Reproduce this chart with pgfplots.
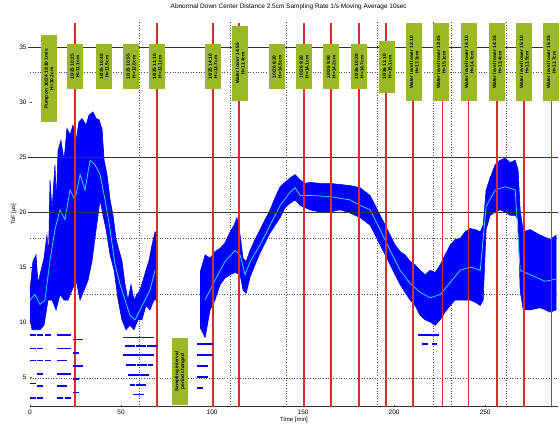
\documentclass[border=0pt]{standalone}
\usepackage{fontspec}
\setmainfont{Liberation Sans}
\usepackage{pgfplots}
\pgfplotsset{compat=1.18}
\definecolor{boxgreen}{RGB}{155,184,38}
\definecolor{evred}{RGB}{215,45,45}
\definecolor{avgcyan}{RGB}{40,220,240}
\tikzset{lbl/.style={rotate=90, fill=boxgreen, inner sep=0pt, minimum height=16bp, align=center, font=\fontsize{4.8}{5.6}\selectfont\bfseries}}
\pgfplotsset{evline/.style={evred, line width=1.4bp}, dotline/.style={black!70, dotted, line width=0.6bp}}
\begin{document}
\begin{tikzpicture}
\useasboundingbox (0,0) rectangle (560bp,428bp);
\begin{axis}[
  at={(30bp,21.3bp)}, anchor=south west,
  scale only axis, width=528bp, height=385bp,
  xmin=0, xmax=290, ymin=2.3, ymax=37.3,
  axis x line*=bottom, axis y line*=left,
  y axis line style={draw=none},
  x axis line style={black!80, line width=0.8bp, -},
  xtick={0,50,...,250}, ytick={5,10,...,35},
  major tick length=2bp,
  tick style={black!70},
  /pgf/number format/assume math mode=true,
  ticklabel style={font=\fontsize{6.5}{7}\selectfont},
  xlabel={Time [min]}, ylabel={ToF [μs]},
  label style={font=\fontsize{6}{7}\selectfont},
  xlabel style={yshift=4bp},
  ylabel style={yshift=-4bp},
  title={Abnormal Down Center Distance 2.5cm Sampling Rate 1/s Moving Average 10sec},
  title style={at={(axis description cs:0.49,1)}, anchor=south, yshift=2bp, font=\fontsize{6.5}{7}\selectfont},
  clip=false,
]
% dotted guide lines
\addplot[dotline] coordinates {(0,32.7) (290,32.7)};
\addplot[dotline] coordinates {(0,17.6) (290,17.6)};
\addplot[dotline] coordinates {(0,12.5) (290,12.5)};
\addplot[dotline] coordinates {(0,4.9) (290,4.9)};
\addplot[dotline] coordinates {(59.9,2.3) (59.9,37.3)};
\addplot[dotline] coordinates {(109.9,2.3) (109.9,37.3)};
\addplot[dotline] coordinates {(140.7,2.3) (140.7,37.3)};
\addplot[dotline] coordinates {(190.7,2.3) (190.7,37.3)};
\addplot[dotline] coordinates {(221.4,2.3) (221.4,37.3)};
\addplot[dotline] coordinates {(231.3,2.3) (231.3,37.3)};
\addplot[dotline] coordinates {(261.5,2.3) (261.5,37.3)};
% data band, first part
\addplot[fill=blue, draw=blue, line width=0.6bp] coordinates {
(0,12.9) (1.6,15.5) (3.3,16.1) (4.4,13.5) (5.5,14.3) (7.7,15.8) (9.3,17.9) (10.2,16) (11,22.9) (12.1,20.2) (13.7,24.3) (14.5,21) (15.4,25.6) (17,26.5) (18.7,24.7) (20.3,27.6) (22,27) (23.6,27.9) (25.3,26.5) (26.9,28.2) (28.6,28.5) (30.8,27.9) (32.4,28.8) (34.6,29.1) (36.3,28.5) (37.9,28.4) (39.6,27.5) (40.7,24.7) (42.3,23.4) (44,21.1) (45.6,19.7) (47.3,17.5) (48.9,16.5) (50.5,15.6) (52.2,13.4) (53.8,12) (55.5,13.4) (57.1,12) (58.8,12.5) (60.4,12.9) (62.1,13.8) (63.7,14.7) (65.4,15.6) (67,17) (68.7,18.2) (69.8,17.9)
(69.8,12) (68.1,12) (65.9,11.1) (63.7,11.5) (61.5,10.2) (59.3,10.2) (57.1,9.3) (54.9,9.7) (52.7,9.3) (50.5,10.2) (48.4,12) (46.2,14.7) (44,16.1) (41.8,18.4) (40.1,19.7) (38.5,21.1) (36.3,18.4) (34.1,15.6) (31.9,13.8) (29.7,12.9) (27.5,12) (25.3,13.8) (23.1,12.9) (20.9,12) (18.7,12) (16.5,12.5) (14.3,11.1) (12.1,12) (9.9,12) (7.7,9.7) (5.5,9.3) (3.3,9.3) (1.1,9.3) (0,10.2)
};
% data band, second part
\addplot[fill=blue, draw=blue, line width=0.6bp] coordinates {
(93.4,14.5) (96.2,16.1) (98.9,15.8) (101.6,16.4) (104.4,16.7) (107.1,17.2) (109.9,18.2) (112.1,18.8) (113.7,19.5) (115.4,17.9) (117,15.8) (118.7,15.5) (120.9,16.5) (123.6,17.5) (126.4,18.4) (129.1,19.3) (131.9,20.2) (134.6,21.3) (137.4,22.3) (140.1,22.7) (142.9,23.1) (145.6,23.4) (148.4,22.9) (151.1,22.6) (153.8,22.7) (159.3,22.6) (164.8,22.6) (170.3,22.5) (175.8,22.4) (181.3,22.2) (186.8,21.5) (189.6,20.6) (192.3,19.7) (195.1,18.8) (197.8,17.9) (200.5,17) (203.3,16.4) (206,16.1) (208.8,15.5) (211.5,15.2) (214.3,14.7) (217,14.3) (219.8,14.7) (222.5,14.5) (225.3,15.2) (228,16.1) (230.8,17) (233.5,17.5) (236.3,17.6) (239,18.2) (241.8,18.5) (244.5,18.4) (247.3,18.2) (248.9,18.8) (250.5,22) (252.7,23.1) (255.5,24.3) (258.2,24.7) (261,24.9) (263.7,24.5) (266.5,24.7) (268.1,23.8) (269.2,20.2) (270.9,18.2) (274.7,18.4) (280.2,17.9) (285.7,17.5) (289,17.9)
(289,11.1) (285.7,10.9) (280.2,11.3) (274.7,11.1) (270.9,11.1) (269.2,12.9) (268.1,19.3) (266.5,19.7) (263.7,19.7) (261,20) (258.2,20.2) (255.5,20) (252.7,19.7) (250.5,18.4) (248.9,12) (247.3,11.5) (244.5,11.8) (241.8,12) (239,12) (236.3,12) (233.5,12) (230.8,11.5) (228,10.9) (225.3,10.2) (222.5,9.7) (219.8,10) (217,10.2) (214.3,10.6) (211.5,11.5) (208.8,12) (206,12.7) (203.3,13.4) (200.5,14.3) (197.8,15.2) (195.1,16.1) (192.3,17) (189.6,17.9) (186.8,18.8) (181.3,19.5) (175.8,19.9) (170.3,20.2) (164.8,20) (159.3,20) (153.8,20.2) (151.1,20.4) (148.4,20.6) (145.6,21.1) (142.9,20.8) (140.1,20.4) (137.4,19.5) (134.6,18.8) (131.9,18.1) (129.1,17.2) (126.4,16.3) (123.6,15.2) (120.9,14.1) (118.7,12.6) (117,12.9) (115.4,14.3) (112.6,14.5) (109.9,14.3) (107.1,14) (104.4,13.4) (101.6,12) (98.9,11.1) (96.2,8.6) (93.4,9.5)
};
% quantised low readings
\addplot[only marks, mark=-, mark size=2.6bp, blue, line width=1.6bp] coordinates {
(1.6,8.8) (5.5,8.8) (9.9,8.8) (1.6,7.6) (5.5,7.6) (1.6,6.5) (5.5,6.5) (9.9,6.5) (5.5,5.3) (1.6,4.4) (5.5,4.2) (5.5,3.1) (1.6,3.1)
(16.5,8.8) (18.7,8.8) (20.9,8.8) (16.5,7.6) (18.7,7.6) (20.9,7.6) (16.5,6.5) (18.7,6.5) (16.5,5.3) (18.7,5.3) (20.9,5.3) (16.5,4.2) (18.7,4.2) (16.5,3.1) (20.9,3.1)
(25.3,8.4) (27.5,8.4) (25.3,7.2) (25.3,6.0) (27.5,6.0) (25.3,4.8) (25.3,3.6)
(52.7,8.6) (55.5,8.6) (58.2,8.6) (61,8.6) (63.7,8.6) (66.5,8.6) (53.5,7.8) (56.5,7.8) (59.5,7.8) (62.5,7.8) (65.5,7.8) (68.5,7.8)
(52.7,7) (55.5,7) (58.2,7) (61,7) (63.7,7) (66.5,7) (54,6.1) (57,6.1) (60,6.1) (63,6.1) (66,6.1)
(55.5,5.2) (58.2,5.2) (61,5.2) (63.7,5.2) (56.5,4.3) (59.5,4.3) (62.5,4.3) (58.2,3.4) (61,3.4)
(93.4,8) (96.2,8) (99,8) (93.4,7) (96.2,7) (99,7) (93.4,6) (96.2,6) (93.4,5) (96.2,5) (93.4,4)
(214.3,8.8) (217,8.8) (220,8.8) (223,8.8) (217,8) (222,8)
};
% moving average
\addplot[avgcyan, line width=0.8bp] coordinates {
(0,12) (2.7,12.5) (5.5,11.6) (8.2,12) (11,15.6) (13.7,18.4) (16.5,20.2) (19.2,19.3) (22,22) (24.7,21.1) (27.5,23.4) (30.2,22) (33,24.7) (35.7,24.3) (38.5,23.4) (41.2,21.1) (44,18.4) (46.7,15.2) (49.5,13.4) (52.2,12) (54.9,10.6) (57.7,10.2) (60.4,11.1) (63.2,12) (65.9,12.9) (68.7,14.7)
};
\addplot[avgcyan, line width=0.8bp] coordinates {
(96.2,12) (101.6,13.8) (107.1,15.5) (112.6,16.5) (115.4,16.1) (118.1,14.3) (120.9,15.5) (126.4,17) (131.9,18.8) (137.4,20.6) (142.9,21.8) (145.6,22.2) (148.4,21.5) (153.8,21.5) (164.8,21.4) (175.8,21.1) (181.3,20.6) (186.8,20.2) (192.3,18.4) (197.8,16.5) (203.3,14.7) (208.8,13.5) (214.3,12.7) (219.8,12.2) (225.3,12.5) (230.8,13.6) (236.3,14.7) (241.8,15) (247.3,14.7) (250.5,20.5) (255.5,22) (261,22.3) (266.5,22) (269.2,14.7) (274.7,14.3) (282.9,13.7) (289,13.9)
};
% limit lines
\addplot[black!80, line width=0.8bp] coordinates {(-1,35) (290,35)};
\addplot[black!80, line width=0.8bp] coordinates {(-1,25) (290,25)};
\addplot[black!80, line width=0.8bp] coordinates {(-1,20) (290,20)};
% event lines
\addplot[evline] coordinates {(24.7,2.3) (24.7,37.2)};
\addplot[evline] coordinates {(69.8,2.3) (69.8,37.2)};
\addplot[evline] coordinates {(100.5,2.3) (100.5,37.2)};
\addplot[evline] coordinates {(114.8,2.3) (114.8,37.2)};
\addplot[evline] coordinates {(150.5,2.3) (150.5,37.2)};
\addplot[evline] coordinates {(165.4,2.3) (165.4,37.2)};
\addplot[evline] coordinates {(180.8,2.3) (180.8,37.2)};
\addplot[evline] coordinates {(195.6,2.3) (195.6,37.2)};
\addplot[evline] coordinates {(210.4,2.3) (210.4,37.2)};
\addplot[evline] coordinates {(226.4,2.3) (226.4,37.2)};
\addplot[evline] coordinates {(240.7,2.3) (240.7,37.2)};
\addplot[evline] coordinates {(256.6,2.3) (256.6,37.2)};
\addplot[evline] coordinates {(271.4,2.3) (271.4,37.2)};
\addplot[evline] coordinates {(286.3,2.3) (286.3,37.2)};
% annotations
\node[lbl, minimum width=87bp] at (axis cs:10.4,32.1) {Pump on 10/24 18:10 1m/s\\H=10.2cm};
\node[lbl, minimum width=45bp] at (axis cs:24.7,33.2) {10/25 10:25\\H=11.1cm};
\node[lbl, minimum width=45bp] at (axis cs:40.7,33.2) {10/25 10:40\\H=11.5cm};
\node[lbl, minimum width=45bp] at (axis cs:55.5,33.2) {10/25 10:55\\H=12.6cm};
\node[lbl, minimum width=45bp] at (axis cs:69.8,33.2) {10/25 11:10\\H=13.1cm};
\node[lbl, minimum width=45bp] at (axis cs:100.5,33.2) {10/25 14:10\\H=13.7cm};
\node[lbl, minimum width=75bp] at (axis cs:115.4,33.5) {Water lower 14:55\\H=11.4cm};
\node[lbl, minimum width=45bp] at (axis cs:135.7,33.2) {10/26 8:20\\H=14.5cm};
\node[lbl, minimum width=45bp] at (axis cs:150.5,33.2) {10/26 9:20\\H=14.1cm};
\node[lbl, minimum width=45bp] at (axis cs:165.4,33.2) {10/26 9:50\\H=14.2cm};
\node[lbl, minimum width=45bp] at (axis cs:180.8,33.2) {10/26 10:30\\H=14.7cm};
\node[lbl, minimum width=52bp] at (axis cs:196.2,33.2) {10/26 11:10\\H=15.1cm};
\node[lbl, minimum width=78bp] at (axis cs:211.0,33.6) {Water level lower 13:10\\H=17.3cm};
\node[lbl, minimum width=78bp] at (axis cs:225.8,33.6) {Water level lower 13:45\\H=15.1cm};
\node[lbl, minimum width=78bp] at (axis cs:241.2,33.6) {Water level lower 14:10\\H=14.7cm};
\node[lbl, minimum width=78bp] at (axis cs:256.6,33.6) {Water level lower 14:35\\H=13.4cm};
\node[lbl, minimum width=78bp] at (axis cs:271.4,33.6) {Water level lower 15:10\\H=11.5cm};
\node[lbl, minimum width=78bp] at (axis cs:286.3,33.6) {Water level lower 15:35\\H=11.7cm};
\node[lbl, minimum width=67bp] at (axis cs:82.4,5.5) {Sampling interval\\period changed};
\end{axis}
\end{tikzpicture}
\end{document}
